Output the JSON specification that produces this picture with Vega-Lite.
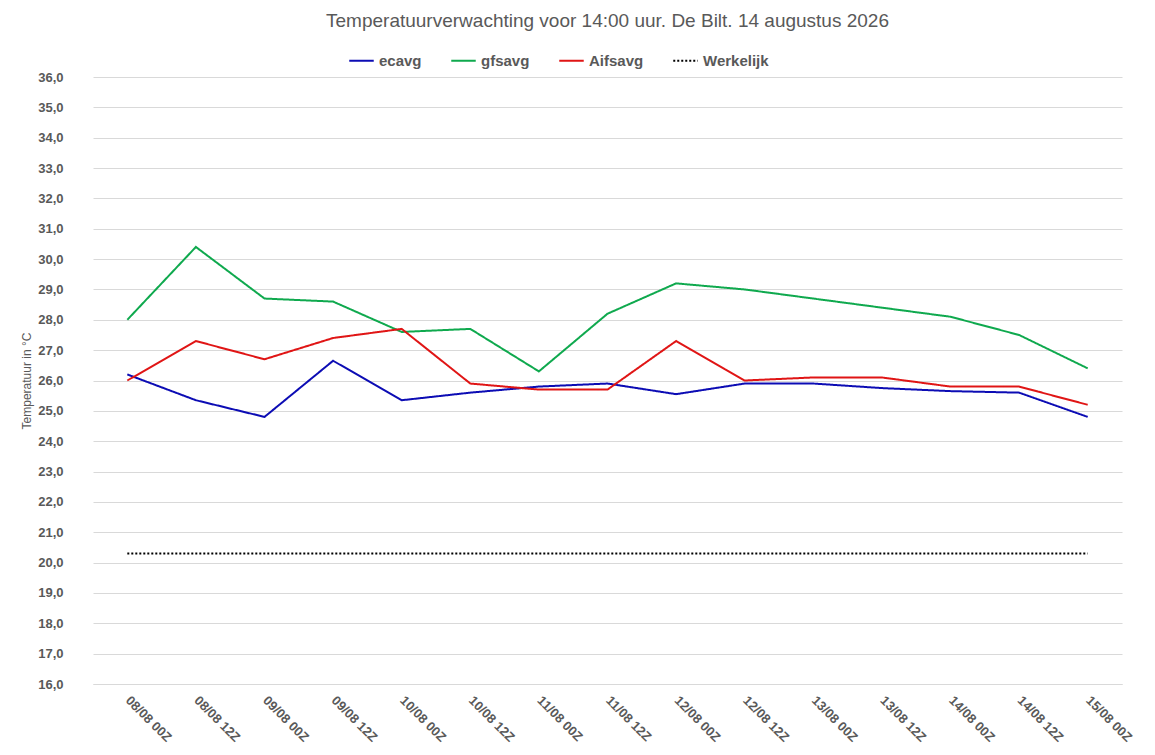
{
  "$schema": "https://vega.github.io/schema/vega-lite/v6.json",
  "autosize": {"type": "fit", "contains": "padding"},
  "width": 1155,
  "height": 755,
  "padding": {"left": 20, "right": 25, "top": 12, "bottom": 10},
  "background": "white",
  "config": {
    "font": "Liberation Sans",
    "view": {"stroke": null},
    "locale": {"number": {"decimal": ",", "thousands": ".", "grouping": [3], "currency": ["", " €"]}}
  },
  "title": {
    "text": "Temperatuurverwachting voor 14:00 uur. De Bilt. 14 augustus 2026",
    "fontSize": 19,
    "fontWeight": "normal",
    "color": "#595959",
    "offset": 40
  },
  "data": {
    "values": [
      {"t": "08/08 00Z", "ecavg": 26.2, "gfsavg": 28.0, "Aifsavg": 26.0, "Werkelijk": 20.3},
      {"t": "08/08 12Z", "ecavg": 25.35, "gfsavg": 30.4, "Aifsavg": 27.3, "Werkelijk": 20.3},
      {"t": "09/08 00Z", "ecavg": 24.8, "gfsavg": 28.7, "Aifsavg": 26.7, "Werkelijk": 20.3},
      {"t": "09/08 12Z", "ecavg": 26.65, "gfsavg": 28.6, "Aifsavg": 27.4, "Werkelijk": 20.3},
      {"t": "10/08 00Z", "ecavg": 25.35, "gfsavg": 27.6, "Aifsavg": 27.7, "Werkelijk": 20.3},
      {"t": "10/08 12Z", "ecavg": 25.6, "gfsavg": 27.7, "Aifsavg": 25.9, "Werkelijk": 20.3},
      {"t": "11/08 00Z", "ecavg": 25.8, "gfsavg": 26.3, "Aifsavg": 25.7, "Werkelijk": 20.3},
      {"t": "11/08 12Z", "ecavg": 25.9, "gfsavg": 28.2, "Aifsavg": 25.7, "Werkelijk": 20.3},
      {"t": "12/08 00Z", "ecavg": 25.55, "gfsavg": 29.2, "Aifsavg": 27.3, "Werkelijk": 20.3},
      {"t": "12/08 12Z", "ecavg": 25.9, "gfsavg": 29.0, "Aifsavg": 26.0, "Werkelijk": 20.3},
      {"t": "13/08 00Z", "ecavg": 25.9, "gfsavg": 28.7, "Aifsavg": 26.1, "Werkelijk": 20.3},
      {"t": "13/08 12Z", "ecavg": 25.75, "gfsavg": 28.4, "Aifsavg": 26.1, "Werkelijk": 20.3},
      {"t": "14/08 00Z", "ecavg": 25.65, "gfsavg": 28.1, "Aifsavg": 25.8, "Werkelijk": 20.3},
      {"t": "14/08 12Z", "ecavg": 25.6, "gfsavg": 27.5, "Aifsavg": 25.8, "Werkelijk": 20.3},
      {"t": "15/08 00Z", "ecavg": 24.8, "gfsavg": 26.4, "Aifsavg": 25.2, "Werkelijk": 20.3}
    ]
  },
  "transform": [
    {"fold": ["ecavg", "gfsavg", "Aifsavg", "Werkelijk"], "as": ["reeks", "temp"]}
  ],
  "mark": {"type": "line", "strokeWidth": 2},
  "encoding": {
    "x": {
      "field": "t",
      "type": "ordinal",
      "scale": {"type": "point", "padding": 0.5},
      "axis": {
        "title": null,
        "labelAngle": 45,
        "labelAlign": "left",
        "labelBaseline": "middle",
        "labelFontSize": 13,
        "labelFontWeight": "bold",
        "labelColor": "#595959",
        "labelPadding": 14,
        "domain": true,
        "domainColor": "#d9d9d9",
        "ticks": false,
        "grid": false
      }
    },
    "y": {
      "field": "temp",
      "type": "quantitative",
      "scale": {"domain": [16, 36], "nice": false},
      "axis": {
        "title": "Temperatuur in °C",
        "titleFontSize": 12,
        "titleFontWeight": "normal",
        "titleColor": "#595959",
        "format": ".1f",
        "values": [16,17,18,19,20,21,22,23,24,25,26,27,28,29,30,31,32,33,34,35,36],
        "labelOverlap": false,
        "labelFontSize": 13,
        "labelFontWeight": "bold",
        "labelColor": "#595959",
        "labelPadding": 30,
        "domain": false,
        "ticks": false,
        "gridColor": "#d9d9d9"
      }
    },
    "color": {
      "field": "reeks",
      "type": "nominal",
      "scale": {
        "domain": ["ecavg", "gfsavg", "Aifsavg", "Werkelijk"],
        "range": ["#0c0cb4", "#0fa94e", "#e01515", "#000000"]
      },
      "legend": {
        "title": null,
        "orient": "none",
        "legendX": 255,
        "legendY": -30,
        "direction": "horizontal",
        "labelFontSize": 15,
        "labelFontWeight": "bold",
        "labelColor": "#595959",
        "symbolType": "stroke",
        "symbolSize": 600,
        "symbolStrokeWidth": 2,
        "columnPadding": 25
      }
    },
    "strokeDash": {
      "field": "reeks",
      "type": "nominal",
      "scale": {
        "domain": ["ecavg", "gfsavg", "Aifsavg", "Werkelijk"],
        "range": [[1, 0], [1, 0], [1, 0], [2, 2]]
      },
      "legend": null
    }
  }
}
